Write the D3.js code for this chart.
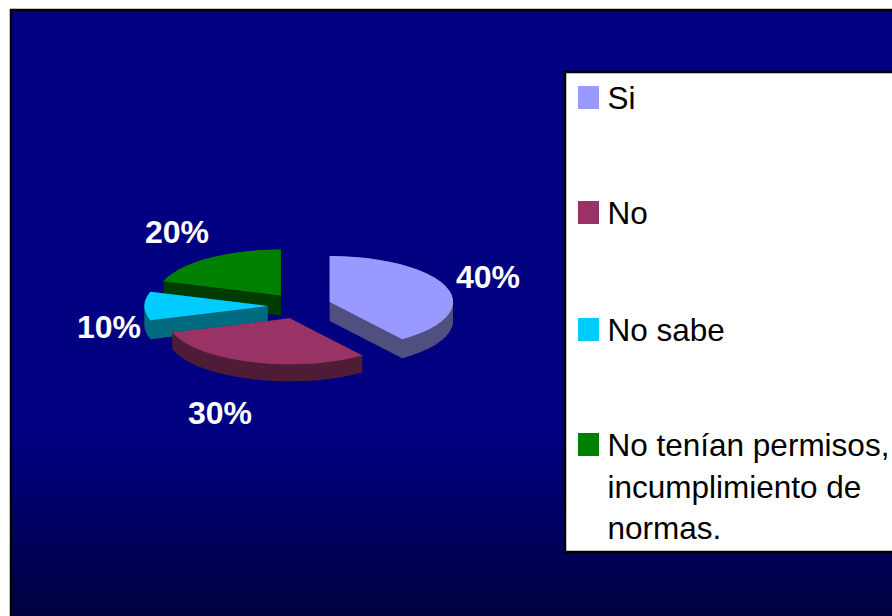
<!DOCTYPE html>
<html><head><meta charset="utf-8">
<script src="https://cdnjs.cloudflare.com/ajax/libs/d3/7.8.5/d3.min.js"></script>
<style>html,body{margin:0;padding:0;background:#fff}svg{display:block}text{font-family:"Liberation Sans",Arial,sans-serif}</style>
</head><body><svg id="c" width="892" height="616"></svg>
<script>
const categories = ["Si","No","No sabe","No tenían permisos, incumplimiento de normas."];
const legendLines = [["Si"],["No"],["No sabe"],["No tenían permisos,","incumplimiento de","normas."]];
const values = [40,30,10,20];
const topColors = ["#9999ff","#993366","#00ccff","#008000"];
const sideColors = ["#4f4f80","#4f1c37","#006b80","#003c00"];

const W=892,H=616;
const svg=d3.select("#c");
const defs=svg.append("defs");
const g=defs.append("linearGradient").attr("id","bg").attr("x1",0).attr("y1",0).attr("x2",0).attr("y2",1);
[[0,"#000080"],[0.7,"#000080"],[1,"#00003c"]].forEach(s=>g.append("stop").attr("offset",s[0]).attr("stop-color",s[1]));
svg.append("rect").attr("x",11).attr("y",10).attr("width",W).attr("height",H).attr("fill","url(#bg)").attr("stroke","#000").attr("stroke-width",2.5);

// projected pie
const x=d3.scaleLinear().domain([-1,1]).range([299.5-123.5,299.5+123.5]);
const y=d3.scaleLinear().domain([-1,1]).range([306-46,306+46]);
const ex=d3.scaleLinear().domain([-1,1]).range([-31.7,31.7]);
const ey=d3.scaleLinear().domain([-1,1]).range([-13,13]);
const depth=[19,17,19,20];
const arcs=d3.pie().sort(null).value(d=>d)(values);
const order=[3,2,1,0];
const pg=svg.append("g");
const line=d3.line();
order.forEach(i=>{
  const a=arcs[i], mid=(a.startAngle+a.endAngle)/2;
  const ox=ex(Math.sin(mid))-ex(0), oy=ey(-Math.cos(mid))-ey(0);
  const pts=[[x(0)+ox,y(0)+oy]];
  const n=Math.max(3,Math.round((a.endAngle-a.startAngle)/0.1));
  d3.range(n+1).forEach(k=>{
    const t=a.startAngle+(a.endAngle-a.startAngle)*k/n;
    pts.push([x(Math.sin(t))+ox,y(-Math.cos(t))+oy]);
  });
  const d=depth[i];
  const hull=d3.polygonHull(pts.concat(pts.map(p=>[p[0],p[1]+d])));
  pg.append("path").attr("d",line(hull)+"Z").attr("fill",sideColors[i]);
  pg.append("path").attr("d",line(pts)+"Z").attr("fill",topColors[i]);
});

// data labels
const labelPos=[[488,288],[220,424],[109,338],[177,243]];
svg.append("g").selectAll("text").data(values).join("text")
  .attr("x",(d,i)=>labelPos[i][0]).attr("y",(d,i)=>labelPos[i][1])
  .attr("text-anchor","middle").attr("font-size",32).attr("font-weight","bold").attr("fill","#fff")
  .text(d=>d+"%");

// legend
svg.append("rect").attr("x",565).attr("y",72).attr("width",W).attr("height",480)
  .attr("fill","#fff").attr("stroke","#000").attr("stroke-width",2.5);
const rowY=[86,201,318,433];
const lg=svg.append("g");
categories.forEach((c,i)=>{
  lg.append("rect").attr("x",578).attr("y",rowY[i]).attr("width",21).attr("height",23).attr("fill",topColors[i]);
  const t=lg.append("text").attr("font-size",31.5).attr("fill","#000");
  legendLines[i].forEach((l,j)=>t.append("tspan").attr("x",607.5).attr("y",rowY[i]+23+j*41.5).text(l));
});
</script></body></html>
